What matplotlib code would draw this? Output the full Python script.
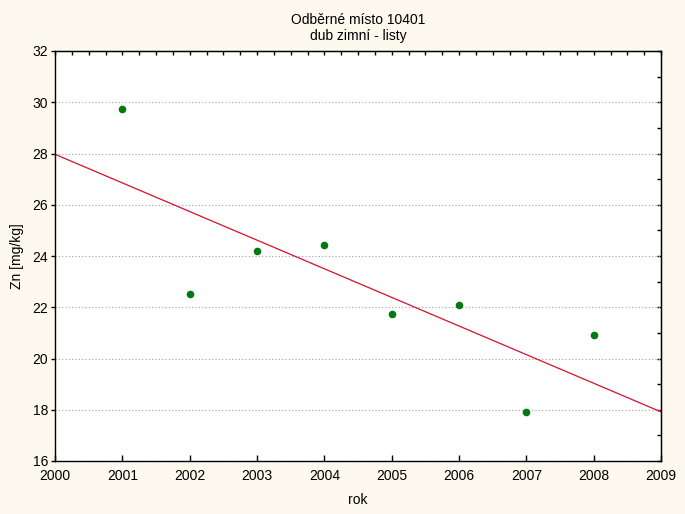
import matplotlib.pyplot as plt
import matplotlib
import numpy as np
from matplotlib.ticker import MultipleLocator, NullFormatter

matplotlib.rcParams["font.family"] = ['Liberation Sans', 'DejaVu Sans']

# data
years = [2001, 2002, 2003, 2004, 2005, 2006, 2007, 2008]
zn = [29.74, 22.52, 24.20, 24.43, 21.74, 22.09, 17.91, 20.92]

bg = '#fdf9ef'

fig = plt.figure(figsize=(6.85, 5.14), dpi=100, facecolor=bg)
ax = fig.add_axes([55/685, 53/514, 606/685, 410/514])
ax.set_facecolor('white')

# linear fit line
k, q = np.polyfit(years, zn, 1)
xl = np.array([2000, 2009])
ax.plot(xl, k*xl + q, color='#d4102a', lw=0.9, zorder=2)

ax.scatter(years, zn, s=20, color='#007a10', zorder=3)

ax.set_xlim(2000, 2009)
ax.set_ylim(16, 32)
ax.xaxis.set_major_locator(MultipleLocator(1))
ax.yaxis.set_major_locator(MultipleLocator(2))
ax.yaxis.grid(True, linestyle=(0, (1, 2)), color='#a0a0a0', lw=0.8)
ax.set_axisbelow(True)

ax.tick_params(axis='x', direction='in', length=4, width=1, labelsize=10, pad=6)
ax.tick_params(axis='y', direction='out', length=3, width=1, labelsize=10, pad=2)
for s in ax.spines.values():
    s.set_linewidth(1)

top = ax.secondary_xaxis('top')
top.xaxis.set_major_locator(MultipleLocator(1))
top.xaxis.set_minor_locator(MultipleLocator(0.25))
top.xaxis.set_major_formatter(NullFormatter())
top.tick_params(which='both', direction='in', length=3, width=1)

right = ax.secondary_yaxis('right')
right.yaxis.set_major_locator(MultipleLocator(2))
right.yaxis.set_minor_locator(MultipleLocator(1))
right.yaxis.set_major_formatter(NullFormatter())
right.tick_params(which='both', direction='in', length=3, width=1)

ax.set_title('Odběrné místo 10401\ndub zimní - listy', fontsize=10, pad=8)
ax.set_xlabel('rok', fontsize=10, labelpad=7)
ax.set_ylabel('Zn [mg/kg]', fontsize=10, labelpad=6)

fig.savefig('out.png', dpi=100, facecolor=bg)
